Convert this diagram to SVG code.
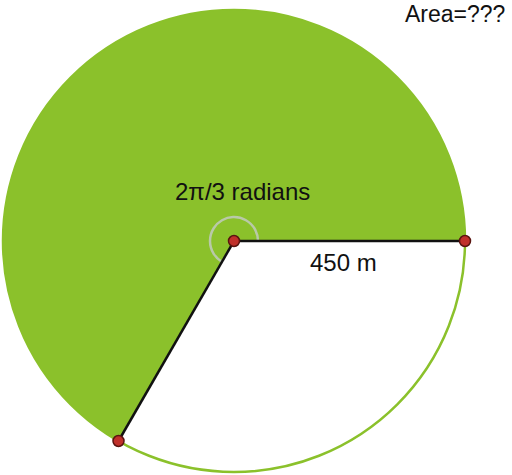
<svg xmlns="http://www.w3.org/2000/svg" width="512" height="475" viewBox="0 0 512 475">
<style>
.lbl{font-family:"Liberation Sans",Arial,sans-serif;font-size:24px;fill:#111}
.pt{fill:#c0302a;stroke:#5a1410;stroke-width:1.5}
</style>
<rect width="512" height="475" fill="#fff"/>
<g id="sector">
<circle cx="234" cy="241" r="231" fill="none" stroke="#8bc12b" stroke-width="2.5"/>
<path d="M234,241 L465,241 A231,231 0 1 0 118.5,441 Z" fill="#8bc12b"/>
<path d="M258,241 A24,24 0 1 0 222,261.8" fill="none" stroke="#b9c9a8" stroke-width="2.5"/>
</g>
<g id="connectors" stroke="#111" stroke-width="2.5">
<line x1="234" y1="241" x2="465" y2="241"/>
<line x1="234" y1="241" x2="118.5" y2="441"/>
</g>
<g id="points">
<circle class="pt" cx="234" cy="241" r="5.5"/>
<circle class="pt" cx="465" cy="241" r="5.5"/>
<circle class="pt" cx="118.5" cy="441" r="5.5"/>
</g>
<g id="labels">
<text class="lbl" x="175" y="200">2π/3 radians</text>
<text class="lbl" x="310" y="271">450 m</text>
<text class="lbl" x="405" y="22" style="font-size:23px">Area=???</text>
</g>
</svg>
